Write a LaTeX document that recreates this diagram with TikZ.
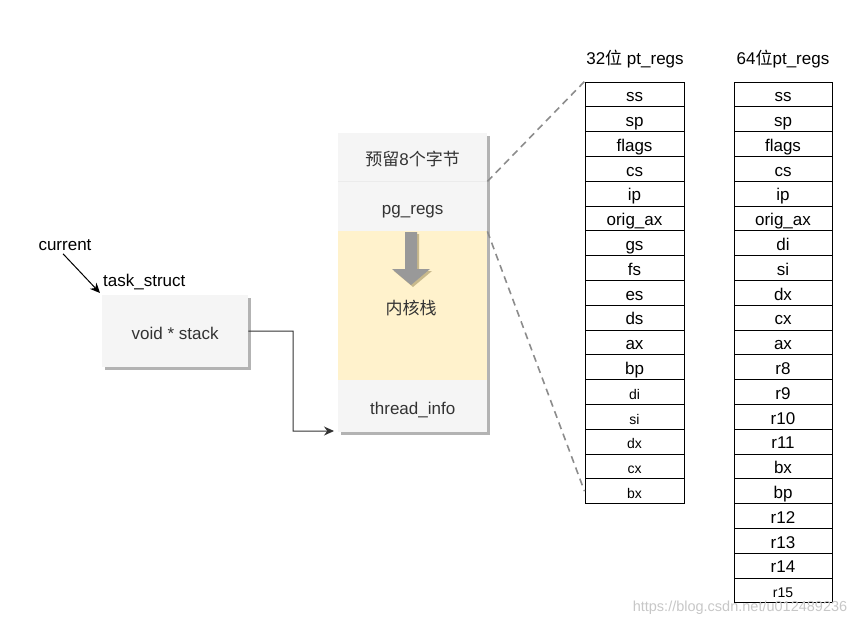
\documentclass[tikz,border=0pt]{standalone}
\usepackage{fontspec}
\setmainfont{Liberation Sans}
\newfontfamily\cjk{Noto Sans CJK SC}
\usetikzlibrary{arrows.meta}
\definecolor{boxgray}{HTML}{F5F5F5}
\definecolor{sepgray}{HTML}{EBEBEB}
\definecolor{stackyellow}{HTML}{FFF2CC}
\definecolor{txtgray}{HTML}{333333}
\definecolor{shadowgray}{HTML}{B3B3B3}
\definecolor{arrowgray}{HTML}{999999}
\definecolor{arrowshadow}{HTML}{C8B98C}
\definecolor{dashgray}{HTML}{8C8C8C}
\tikzset{
  big/.style={font=\fontsize{17}{20}\selectfont},
  small/.style={font=\fontsize{14}{16}\selectfont},
  cell/.style={draw=black, line width=1pt, minimum height=24.8pt, inner sep=0pt, text height=17pt, text depth=2.5pt, big},
  cellA/.style={cell, minimum width=99pt},
  cellB/.style={cell, minimum width=98pt},
  stackbox/.style={fill=boxgray, draw=none, minimum width=149pt, inner sep=0pt, text=txtgray, text height=16pt, text depth=0pt, big},
  tip/.style={-{Stealth[length=10pt,width=9pt]}, line width=1pt},
}
\begin{document}
\begin{tikzpicture}[x=1pt,y=-1pt]
\useasboundingbox (0,0) rectangle (867,627);
% task_struct
\fill[shadowgray] (105,298) rectangle (251,370);
\node[stackbox, minimum width=146pt, minimum height=72pt, anchor=north west] (task) at (102,295) {void * stack};
\node[anchor=south west, inner sep=0pt, big] (tasklbl) at (103,290) {task\_struct};
\node[big, inner sep=1pt] (cur) at (65,245) {current};
\coordinate (curend) at (100,293);
\draw[tip] (cur.south) ++(-2,2) coordinate (curstart) -- (curend);
% stack
\fill[shadowgray] (341,136) rectangle (490,435);
\node[stackbox, minimum height=48pt, anchor=north west] (r1) at (338,133) {{\cjk 预留}8{\cjk 个字节}};
\node[stackbox, minimum height=50pt, anchor=north west] (r2) at (338,181) {pg\_regs};
\node[stackbox, fill=stackyellow, minimum height=149pt, anchor=north west] (r3) at (338,231) {};
\node[stackbox, minimum height=52pt, anchor=north west] (r4) at (338,380) {thread\_info};
\draw[sepgray, line width=0.8pt] (r1.south west) -- (r1.south east);
\node[big, text=txtgray, inner sep=0pt] (kstack) at (411,308) {\cjk 内核栈};
% down arrow
\fill[arrowshadow] (407,234) -- (419,234) -- (419,271) -- (432,271) -- (413,287) -- (394,271) -- (407,271) -- cycle;
\fill[arrowgray] (405,232) -- (417,232) -- (417,269) -- (430,269) -- (411,285) -- (392,269) -- (405,269) -- cycle;
% connector task -> thread_info
\coordinate (tgt) at (334,431);
\draw[tip, draw=black!80] (task.east) -- (293,331) |- (tgt);
% 32-bit table
\node[big] (h32) at (635,59) {32{\cjk 位} pt\_regs};
\foreach \t [count=\i from 0] in {ss,sp,flags,cs,ip,orig\_ax,gs,fs,es,ds,ax,bp}
  \node[cellA] (a\i) at (634.5,{82+24.8*(\i+0.5)}) {\t};
\foreach \t [count=\i from 12] in {di,si,dx,cx,bx}
  \node[cellA, small] (a\i) at (634.5,{82+24.8*(\i+0.5)}) {\t};
% 64-bit table
\node[big] (h64) at (783,59) {64{\cjk 位}pt\_regs};
\foreach \t [count=\i from 0] in {ss,sp,flags,cs,ip,orig\_ax,di,si,dx,cx,ax,r8,r9,r10,r11,bx,bp,r12,r13,r14}
  \node[cellB] (b\i) at (783,{82+24.8*(\i+0.5)}) {\t};
\node[cellB, small] (b20) at (783,{82+24.8*20.5}) {r15};
% dashed zoom lines
\draw[dashgray, line width=1.6pt, dash pattern=on 7pt off 5pt] (r1.south east) -- (a0.north west);
\draw[dashgray, line width=1.6pt, dash pattern=on 7pt off 5pt] (r2.south east) -- (a16.west);
% watermark
\node[font=\fontsize{14.5}{16}\selectfont, text=black!22, inner sep=0pt] (wm) at (740,608) {https://blog.csdn.net/u012489236};
\end{tikzpicture}
\end{document}
